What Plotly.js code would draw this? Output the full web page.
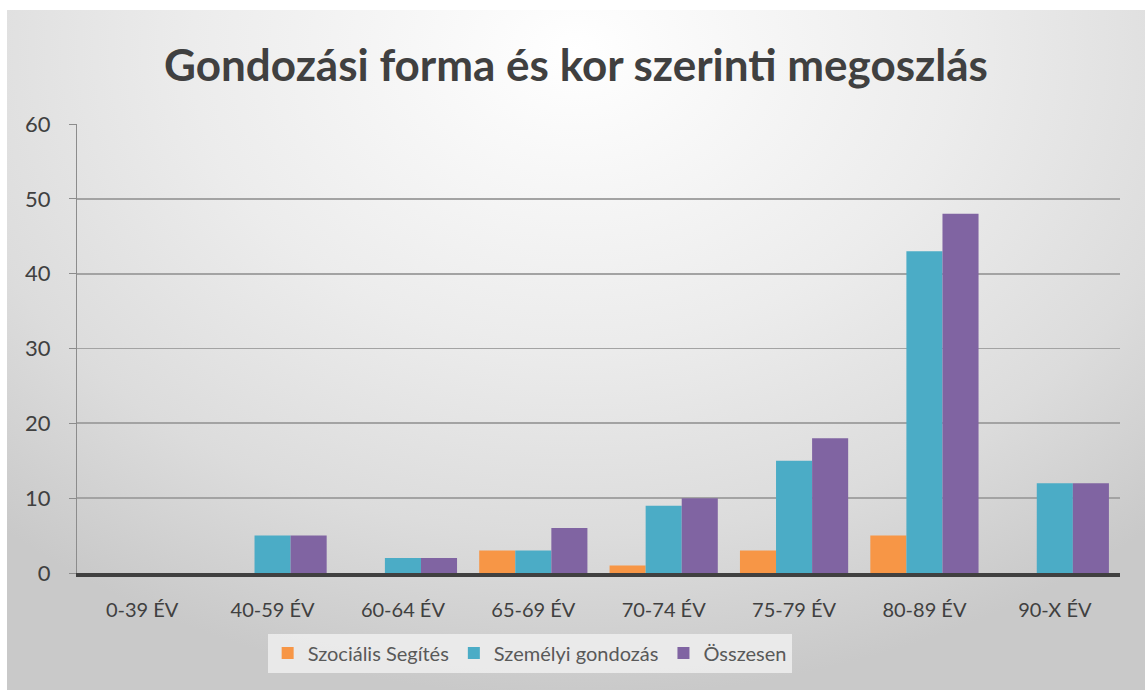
<!DOCTYPE html>
<html>
<head>
<meta charset="utf-8">
<script src="https://cdn.plot.ly/plotly-3.0.1.min.js"></script>
<style>
  html, body { margin: 0; padding: 0; width: 1145px; height: 690px; background: #ffffff; overflow: hidden; }
  #bg { position: absolute; left: 7px; top: 10px; width: 1138px; height: 680px;
        background: radial-gradient(ellipse 75% 95% at 50% 6%, #ffffff 0%, #ececec 45%, #dcdcdc 75%, #c9c9c9 100%); }
  #chart { position: absolute; left: 0; top: 0; width: 1145px; height: 690px; }
</style>
</head>
<body>
<div id="bg"></div>
<div id="chart"></div>
<script>
const categories = ["0-39 ÉV", "40-59 ÉV", "60-64 ÉV", "65-69 ÉV", "70-74 ÉV", "75-79 ÉV", "80-89 ÉV", "90-X ÉV"];
const szocialisSegites = [0, 0, 0, 3, 1, 3, 5, 0];
const szemelyiGondozas = [0, 5, 2, 3, 9, 15, 43, 12];
const osszesen = [0, 5, 2, 6, 10, 18, 48, 12];
const seriesNames = ["Szociális Segítés", "Személyi gondozás", "Összesen"];
const yTicks = [0, 10, 20, 30, 40, 50, 60];

const font = "Lato, 'Open Sans', sans-serif";
const traces = [
  {type: "bar", name: seriesNames[0], x: categories, y: szocialisSegites, marker: {color: "#F79646"}},
  {type: "bar", name: seriesNames[1], x: categories, y: szemelyiGondozas, marker: {color: "#4BACC6"}},
  {type: "bar", name: seriesNames[2], x: categories, y: osszesen, marker: {color: "#8064A2"}}
];

const layout = {
  width: 1145, height: 690,
  margin: {l: 77, r: 25, t: 124, b: 117},
  paper_bgcolor: "rgba(0,0,0,0)",
  plot_bgcolor: "rgba(0,0,0,0)",
  barmode: "group",
  bargap: 0.17,
  bargroupgap: 0,
  title: {text: "Gondozási forma és kor szerinti megoszlás", x: 0.503, xanchor: "center", y: 0.905, yanchor: "middle",
          font: {family: font, size: 44, color: "#404040", weight: "bold"}},
  xaxis: {type: "category", showgrid: false, zeroline: false, showline: true, linecolor: "#404040", linewidth: 4,
          ticks: "", ticklabelstandoff: 16, tickfont: {family: font, size: 20, color: "#404040"}},
  yaxis: {range: [0, 60], tickvals: yTicks, showgrid: true, gridcolor: "#a3a3a3", gridwidth: 1.8,
          zeroline: false, showline: true, linecolor: "#8c8c8c", linewidth: 1,
          ticks: "outside", ticklen: 7, tickcolor: "#8c8c8c", ticklabelstandoff: 14,
          tickfont: {family: font, size: 22, color: "#404040"}},
  showlegend: true,
  legend: {orientation: "h", x: 0.434, xanchor: "center", y: -0.135, yanchor: "top",
           bgcolor: "rgba(238,238,238,0.85)", font: {family: font, size: 20, color: "#595959"},
           itemwidth: 30, tracegroupgap: 0}
};

Plotly.newPlot("chart", traces, layout, {displayModeBar: false, staticPlot: true});
</script>
</body>
</html>
